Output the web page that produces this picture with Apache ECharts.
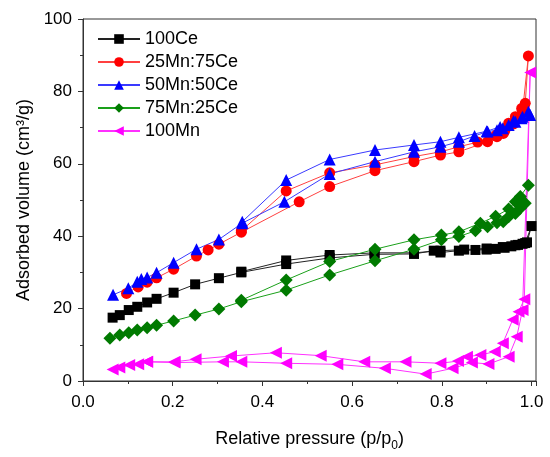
<html>
<head>
<meta charset="utf-8">
<style>
  body,html{margin:0;padding:0;width:100%;height:100%;background:#fff;}
  #chart{width:550px;height:457px;}
</style>
<script src="https://cdn.jsdelivr.net/npm/echarts@6/dist/echarts.min.js"></script>
</head>
<body>
<div id="chart"></div>
<script>
// adsorption branch then desorption branch, [p/p0, volume]
var ce100 = [
  [0.066,17.5],[0.082,18.2],[0.102,19.6],[0.121,20.5],[0.143,21.7],[0.164,22.7],[0.202,24.4],
  [0.250,26.7],[0.303,28.4],[0.353,30.0],[0.453,32.3],[0.550,34.0],[0.650,35.0],[0.738,35.1],
  [0.782,36.0],[0.797,35.5],[0.838,36.0],[0.875,36.2],[0.900,36.3],[0.920,36.5],[0.940,36.8],
  [0.955,37.2],[0.970,37.6],[0.980,37.9],[0.990,38.3],[1.000,42.8],
  [0.986,38.1],[0.964,37.5],[0.936,37.0],[0.900,36.6],[0.850,36.3],[0.797,36.0],[0.738,35.4],
  [0.650,35.4],[0.550,34.8],[0.453,33.3],[0.353,30.2]
];
var mn25ce75 = [
  [0.097,24.2],[0.123,26.0],[0.143,27.3],[0.164,28.5],[0.202,30.9],[0.253,34.5],[0.279,36.2],
  [0.303,37.8],[0.353,41.1],[0.482,49.5],[0.550,53.7],[0.651,58.1],[0.738,60.6],[0.797,62.4],
  [0.838,63.3],[0.902,66.1],[0.923,67.5],[0.937,68.4],[0.949,71.2],[0.964,73.0],[0.978,75.3],
  [0.986,76.7],[0.993,89.8],
  [0.980,74.5],[0.960,71.0],[0.940,69.0],[0.920,67.8],[0.880,66.0],[0.838,64.7],[0.797,63.3],
  [0.738,62.0],[0.651,59.7],[0.550,57.5],[0.453,52.5],[0.353,41.5]
];
var mn50ce50 = [
  [0.067,23.8],[0.101,25.6],[0.121,27.4],[0.130,28.2],[0.143,28.6],[0.164,29.9],[0.202,32.7],
  [0.253,36.4],[0.303,39.1],[0.355,43.6],[0.449,49.5],[0.550,57.2],[0.651,60.6],[0.738,63.3],
  [0.797,64.7],[0.838,66.1],[0.873,67.7],[0.902,68.9],[0.923,69.3],[0.936,69.8],[0.949,70.7],
  [0.964,71.6],[0.978,72.6],[0.993,74.4],[0.997,73.5],
  [0.980,73.0],[0.960,71.8],[0.930,70.2],[0.900,69.0],[0.838,67.3],[0.797,66.1],[0.738,65.2],
  [0.651,63.8],[0.550,61.2],[0.453,55.5],[0.355,44.0]
];
var mn75ce25 = [
  [0.060,11.8],[0.082,12.7],[0.102,13.3],[0.121,14.1],[0.143,14.7],[0.164,15.4],[0.202,16.6],
  [0.250,18.2],[0.303,19.9],[0.353,21.9],[0.453,25.1],[0.550,29.3],[0.651,33.2],[0.738,36.4],
  [0.799,39.0],[0.838,39.9],[0.875,41.5],[0.902,42.6],[0.923,43.7],[0.937,44.0],[0.949,45.4],
  [0.964,46.3],[0.975,47.7],[0.986,49.1],[0.993,54.1],
  [0.975,51.0],[0.964,49.5],[0.949,47.5],[0.920,45.5],[0.886,43.6],[0.838,41.2],[0.799,40.3],
  [0.738,39.0],[0.651,36.4],[0.550,33.0],[0.453,27.9],[0.353,22.3]
];
var mn100 = [
  [0.066,3.2],[0.081,3.7],[0.103,4.4],[0.123,4.6],[0.143,5.3],[0.204,5.1],[0.312,5.3],
  [0.353,5.3],[0.453,4.9],[0.567,4.6],[0.673,3.5],[0.764,1.9],[0.824,3.5],[0.867,5.1],
  [0.904,4.7],[0.949,6.7],[0.967,12.2],[0.980,19.6],[0.997,85.2],
  [0.984,22.6],[0.971,19.1],[0.958,16.9],[0.936,10.4],[0.918,8.1],[0.886,7.2],[0.856,6.7],
  [0.836,5.5],[0.797,4.9],[0.719,5.3],[0.627,5.3],[0.530,7.0],[0.430,7.8],[0.330,6.9],
  [0.251,6.0],[0.204,5.3],[0.143,5.3]
];
var names = ['100Ce','25Mn:75Ce','50Mn:50Ce','75Mn:25Ce','100Mn'];

var FONT = 'Liberation Sans';
var chart = echarts.init(document.getElementById('chart'));

function mk(name, data, color, lineColor, symbol, size, rot){
  return {
    name: name, type: 'line', data: data,
    symbol: symbol, symbolSize: size, symbolRotate: rot || 0,
    itemStyle: {color: color},
    lineStyle: {color: lineColor, width: 1},
    animation: false
  };
}

chart.setOption({
  animation: false,
  grid: {left: 83, top: 19, right: 14, bottom: 76, show: true, borderColor: '#333', borderWidth: 1},
  legend: {
    left: 92, top: 25, orient: 'vertical', itemGap: 5, itemWidth: 42, itemHeight: 12,
    textStyle: {fontFamily: FONT, fontSize: 18, color: '#000'},
    data: names
  },
  xAxis: {
    type: 'value', min: 0, max: 1.01, interval: 0.2,
    name: 'Relative pressure (p/p{sub|0})', nameLocation: 'middle', nameGap: 45,
    nameTextStyle: {fontFamily: FONT, fontSize: 18, color: '#000',
      rich: {sub: {fontFamily: FONT, fontSize: 12, verticalAlign: 'bottom', padding: [14,0,0,0]}}},
    axisLine: {lineStyle: {color: '#333'}},
    axisTick: {inside: false, length: 5, lineStyle: {color: '#333'}},
    minorTick: {show: true, splitNumber: 2, length: 3, lineStyle: {color: '#333'}},
    axisLabel: {fontFamily: FONT, fontSize: 17, color: '#000', margin: 13,
      formatter: function(v){ return v.toFixed(1); }},
    splitLine: {show: false}
  },
  yAxis: {
    type: 'value', min: 0, max: 100, interval: 20,
    name: 'Adsorbed volume (cm³/g)', nameLocation: 'middle', nameGap: 50,
    nameTextStyle: {fontFamily: FONT, fontSize: 18, color: '#000'},
    axisLine: {lineStyle: {color: '#333'}},
    axisTick: {inside: false, length: 5, lineStyle: {color: '#333'}},
    minorTick: {show: true, splitNumber: 2, length: 3, lineStyle: {color: '#333'}},
    axisLabel: {fontFamily: FONT, fontSize: 17, color: '#000', margin: 11},
    splitLine: {show: false}
  },
  series: [
    mk(names[0], ce100, '#000000', '#222222', 'rect', 10),
    mk(names[1], mn25ce75, '#ff0000', '#ff4040', 'circle', 11),
    mk(names[2], mn50ce50, '#0000ff', '#3a3aff', 'triangle', 12),
    mk(names[3], mn75ce25, '#007a00', '#1aa01a', 'diamond', 13),
    mk(names[4], mn100, '#ff00ff', '#ff30ff', 'triangle', 12, 90)
  ]
});
</script>
</body>
</html>
